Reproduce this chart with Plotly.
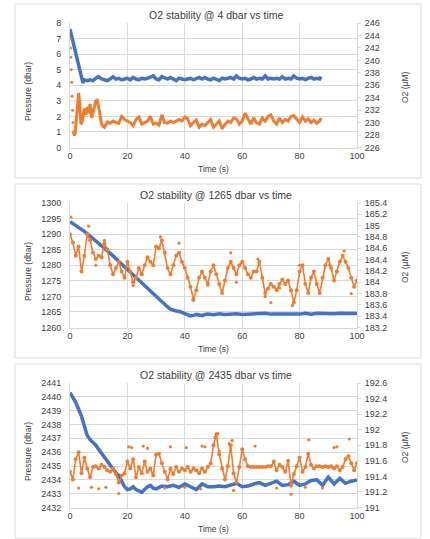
import plotly.graph_objects as go

# ---------------- DATA ----------------
titles = ["O2 stability @ 4 dbar vs time", "O2 stability @ 1265 dbar vs time", "O2 stability @ 2435 dbar vs time"]

# Panel 1 (4 dbar)
p1_t = [0, 1, 2, 3, 4, 4.5] + list(range(5, 88)) + [87.5]
p1_pres = [7.6, 6.8, 6.0, 5.2, 4.4, 4.15,
           4.35, 4.3, 4.35, 4.3, 4.45, 4.55, 4.4, 4.35, 4.3, 4.4,          # 5-14
           4.55, 4.4, 4.45, 4.35, 4.4, 4.45, 4.35, 4.5, 4.4, 4.35,         # 15-24
           4.45, 4.4, 4.45, 4.5, 4.6, 4.4, 4.35, 4.55, 4.45, 4.4,          # 25-34
           4.5, 4.4, 4.3, 4.45, 4.4, 4.35, 4.4, 4.45, 4.35, 4.4,           # 35-44
           4.5, 4.4, 4.5, 4.4, 4.35, 4.45, 4.4, 4.3, 4.45, 4.4,            # 45-54
           4.45, 4.5, 4.4, 4.6, 4.45, 4.4, 4.45, 4.35, 4.4, 4.5,           # 55-64
           4.4, 4.45, 4.4, 4.6, 4.4, 4.45, 4.4, 4.45, 4.4, 4.55,           # 65-74
           4.4, 4.45, 4.4, 4.6, 4.45, 4.4, 4.45, 4.35, 4.45, 4.5,          # 75-84
           4.4, 4.45, 4.4,                                                 # 85-87
           4.55]
p1_o2_t = [0, 0.15, 0.3, 0.45, 0.6, 0.75, 0.9, 1.05, 1.2, 1.5,
           1.8, 2.2, 2.6, 3.0, 3.4, 3.8, 4.2, 4.6, 5.0, 5.5,
           6.0, 6.5, 7.0, 7.5, 8.0, 8.5, 9.0, 9.5, 10.0, 10.5,
           11.0, 11.5] + list(range(12, 88)) + [87.5]
p1_o2 = [243.5, 242.0, 240.5, 238.5, 236.5, 234.25, 232.0, 230.0, 228.5, 227.9,
         228.25, 230.5, 233.0, 234.75, 233.0, 229.75, 230.0, 231.0, 232.25, 231.25,
         232.5, 231.5, 233.0, 230.75, 231.5, 232.5, 233.5, 233.6, 232.5, 231.0,
         229.75, 229.4,
         229.25, 230.1, 229.9, 230.25, 230.0, 229.9, 231.0, 230.5, 230.25, 230.0,      # 12-21
         229.5, 230.5, 230.9, 229.75, 230.0, 230.25, 231.0, 229.75, 229.9, 229.6,      # 22-31
         231.25, 230.0, 229.9, 230.25, 230.0, 230.25, 230.5, 230.25, 230.9, 230.6,     # 32-41
         229.5, 230.0, 230.4, 229.25, 229.75, 229.5, 230.0, 230.5, 229.25, 229.75,     # 42-51
         230.25, 229.0, 229.75, 230.25, 230.0, 230.75, 230.6, 229.75, 230.25, 231.5,   # 52-61
         230.5, 229.75, 230.75, 230.0, 229.75, 230.75, 230.25, 231.0, 231.25, 230.25,  # 62-71
         229.75, 230.75, 230.0, 230.5, 230.25, 231.0, 231.1, 230.5, 230.0, 230.9,      # 72-81
         230.25, 230.6, 230.0, 230.4, 229.9, 230.25,                                   # 82-87
         230.75]

# Panel 2 (1265 dbar)
p2_t = [0, 2.5, 5, 7.5, 10, 12.5, 15, 17.5, 20, 22.5, 25, 27.5, 30, 32, 34, 35, 36, 37, 38, 39,
        40, 41, 42, 43, 44, 45, 46, 47, 48] + list(range(50, 101, 2))
p2_pres = [1294, 1292.6, 1290.9, 1289, 1287.1, 1285.1, 1283, 1280.8, 1278.6, 1276.4,
           1274.2, 1272, 1269.9, 1268.2, 1266.6, 1265.9, 1265.5, 1265.3, 1265.2, 1264.8,
           1264.3, 1263.9, 1263.7, 1263.9, 1264.2, 1264.0, 1263.8, 1264.2, 1264.3,
           1264.1, 1264.4, 1264.2, 1264.3, 1264.4, 1264.2, 1264.3, 1264.3, 1264.4, 1264.6,
           1264.3, 1264.3, 1264.4, 1264.3, 1264.5, 1264.3, 1264.6, 1264.3, 1264.6, 1264.5,
           1264.6, 1264.4, 1264.6, 1264.5, 1264.4, 1264.5]
p2_o2_t = list(range(0, 101))
p2_o2 = [184.85, 184.70, 184.47, 184.63, 184.19, 184.47, 184.85, 184.74, 184.52, 184.41,   # 0-9
         184.47, 184.44, 184.69, 184.58, 184.30, 184.14, 184.25, 184.36, 184.19, 184.08,   # 10-19
         184.36, 184.19, 184.00, 184.08, 184.25, 184.14, 184.30, 184.44, 184.36, 184.30,   # 20-29
         184.63, 184.60, 184.74, 184.52, 184.25, 184.14, 184.30, 184.47, 184.52, 184.36,   # 30-39
         184.25, 184.08, 183.92, 183.70, 183.86, 184.08, 184.19, 184.08, 183.97, 184.19,   # 40-49
         184.30, 184.14, 183.97, 183.81, 184.03, 184.25, 184.36, 184.25, 184.14, 184.30,   # 50-59
         184.36, 184.25, 184.14, 184.08, 184.19, 184.19, 184.36, 184.08, 183.81, 183.89,   # 60-69
         183.97, 183.92, 183.86, 183.97, 184.05, 183.97, 184.03, 183.86, 183.64, 183.86,   # 70-79
         184.19, 184.30, 183.97, 183.81, 184.08, 184.19, 183.97, 183.81, 184.08, 184.30,   # 80-89
         184.41, 184.25, 184.03, 184.19, 184.36, 184.47, 184.36, 184.25, 184.08, 183.92,   # 90-99
         184.03]
p2_out_t = [0.3, 6.5, 12, 9, 22, 31.5, 38, 43, 48, 56, 58, 65.5, 68, 70, 73, 77.5, 80, 90.5, 95.5, 98]
p2_out_o2 = [185.15, 184.99, 184.74, 184.30, 183.94, 184.80, 184.69, 183.68, 183.95, 184.52,
             184.00, 184.41, 183.75, 183.64, 183.90, 183.59, 184.30, 184.30, 184.55, 183.80]

# Panel 3 (2435 dbar)
p3_t = list(range(0, 31)) + list(range(32, 101, 2))
p3_pres = [2440.3, 2440.0, 2439.6, 2439.1, 2438.6, 2437.9, 2437.2, 2436.9, 2436.7, 2436.5,
           2436.2, 2435.9, 2435.6, 2435.3, 2435.0, 2434.7, 2434.5, 2434.3, 2433.9, 2433.5,
           2433.3, 2433.35, 2433.5, 2433.3, 2433.2, 2433.1, 2433.3, 2433.5, 2433.6, 2433.4,
           2433.35,
           2433.55, 2433.5, 2433.6, 2433.45, 2433.7, 2433.5, 2433.3, 2433.7, 2433.5, 2433.5,
           2433.55, 2433.5, 2433.6, 2433.75, 2433.5, 2433.55, 2433.7, 2433.8, 2433.6, 2433.75,
           2433.9, 2433.6, 2433.65, 2433.9, 2433.6, 2433.7, 2433.95, 2434.0, 2433.6, 2434.2,
           2433.7, 2434.1, 2433.75, 2433.9, 2434.0]
p3_o2_t = list(range(0, 101))
p3_o2 = [191.46, 191.36, 191.62, 191.71, 191.44, 191.64, 191.50, 191.39, 191.52, 191.53,   # 0-9
         191.50, 191.55, 191.52, 191.48, 191.46, 191.50, 191.43, 191.32, 191.41, 191.44,   # 10-19
         191.59, 191.50, 191.62, 191.39, 191.52, 191.44, 191.59, 191.46, 191.50, 191.41,   # 20-29
         191.68, 191.69, 191.57, 191.46, 191.36, 191.50, 191.43, 191.52, 191.46, 191.50,   # 30-39
         191.48, 191.52, 191.46, 191.50, 191.48, 191.44, 191.50, 191.46, 191.52, 191.57,   # 40-49
         191.80, 191.94, 191.68, 191.50, 191.36, 191.53, 191.80, 191.44, 191.32, 191.52,   # 50-59
         191.75, 191.62, 191.53, 191.52, 191.52, 191.52, 191.52, 191.52, 191.52, 191.53,   # 60-69
         191.53, 191.59, 191.48, 191.55, 191.52, 191.46, 191.60, 191.28, 191.43, 191.53,   # 70-79
         191.64, 191.46, 191.52, 191.69, 191.55, 191.50, 191.53, 191.53, 191.52, 191.53,   # 80-89
         191.52, 191.53, 191.50, 191.53, 191.48, 191.52, 191.62, 191.66, 191.57, 191.48,   # 90-99
         191.57]
p3_out_t = [20.5, 21.5, 25.5, 27, 35, 40.5, 46, 47, 64.5, 92, 93, 83.2, 97.3,
            3, 7.5, 10, 12.5, 17, 33, 40, 45.5, 57, 72, 77, 82, 88,
            50.5, 51.5, 52, 55.5, 56.5]
p3_out_o2 = [191.78, 191.77, 191.79, 191.76, 191.78, 191.77, 191.79, 191.78, 191.79, 191.77, 191.78, 191.87, 191.88,
             191.25, 191.26, 191.24, 191.26, 191.18, 191.25, 191.26, 191.24, 191.22, 191.25, 191.17, 191.26, 191.25,
             191.90, 191.95, 191.72, 191.82, 191.86]

left_ranges = [[0, 8], [1260, 1300], [2432, 2441]]
left_dticks = [1, 5, 1]
right_ranges = [[226, 246], [183.2, 185.4], [191, 192.6]]
right_dticks = [2, 0.2, 0.2]

# ---------------- STYLE / LAYOUT ----------------
W, H = 430, 539
BLUE = "#4472C4"
ORANGE = "#ED7D31"
GRID = "#d9d9d9"
TXT = "#404040"
FONT = "Liberation Sans, Arial, sans-serif"

def px(x):
    return x / W

def py(y):
    return 1 - y / H

offsets = [0, 180, 360]
x0, x1 = 70, 357

fig = go.Figure()

pressure_sets = [(p1_t, p1_pres), (p2_t, p2_pres), (p3_t, p3_pres)]
o2_sets = [(p1_o2_t, p1_o2), (p2_o2_t, p2_o2), (p3_o2_t, p3_o2)]
outlier_sets = [None, (p2_out_t, p2_out_o2), (p3_out_t, p3_out_o2)]

shapes = []
annotations = []

for i, off in enumerate(offsets):
    n = i + 1
    xa = "x" if n == 1 else f"x{n}"
    yl_idx = 2 * i + 1
    yr_idx = 2 * i + 2
    yl = "y" if yl_idx == 1 else f"y{yl_idx}"
    yr = f"y{yr_idx}"

    t, p = pressure_sets[i]
    fig.add_trace(go.Scatter(x=t, y=p, mode="lines", xaxis=xa, yaxis=yl,
                             line=dict(color=BLUE, width=3.5), showlegend=False))
    t2, o = o2_sets[i]
    if i == 0:
        fig.add_trace(go.Scatter(x=t2[8:], y=o[8:], mode="lines", xaxis=xa, yaxis=yr,
                                 line=dict(color=ORANGE, width=3), showlegend=False))
        fig.add_trace(go.Scatter(x=t2[:9], y=o[:9], mode="markers", xaxis=xa, yaxis=yr,
                                 marker=dict(color=ORANGE, size=3), showlegend=False))
    else:
        fig.add_trace(go.Scatter(x=t2, y=o, mode="lines+markers", xaxis=xa, yaxis=yr,
                                 line=dict(color=ORANGE, width=1.6),
                                 marker=dict(color=ORANGE, size=4), showlegend=False))
        ot, oo = outlier_sets[i]
        fig.add_trace(go.Scatter(x=ot, y=oo, mode="markers", xaxis=xa, yaxis=yr,
                                 marker=dict(color=ORANGE, size=3.2), showlegend=False))

    top, bot = off + 23, off + 147.5
    dom_y = [py(bot), py(top)]
    xkey = "xaxis" if n == 1 else f"xaxis{n}"
    ylkey = "yaxis" if yl_idx == 1 else f"yaxis{yl_idx}"
    yrkey = f"yaxis{yr_idx}"

    fig.layout[xkey] = dict(domain=[px(x0), px(x1)], anchor=yl, range=[0, 100], dtick=20,
                            automargin=False,
                            showgrid=True, gridcolor=GRID, gridwidth=1, zeroline=False,
                            showline=True, linecolor=GRID, ticks="", fixedrange=True,
                            tickfont=dict(size=9, color=TXT, family=FONT))
    fig.layout[ylkey] = dict(domain=dom_y, anchor=xa, range=left_ranges[i], dtick=left_dticks[i],
                             automargin=False,
                             showgrid=True, gridcolor=GRID, gridwidth=1, zeroline=False,
                             showline=True, linecolor=GRID, ticks="", ticklabelstandoff=6,
                             tickfont=dict(size=9, color=TXT, family=FONT))
    fig.layout[yrkey] = dict(overlaying=yl, side="right", anchor=xa, range=right_ranges[i],
                             automargin=False,
                             dtick=right_dticks[i], showgrid=False, zeroline=False,
                             showline=True, linecolor=GRID, ticks="outside", ticklen=3,
                             tickcolor=GRID, ticklabelstandoff=2,
                             tickfont=dict(size=9, color=TXT, family=FONT))

    # panel border
    shapes.append(dict(type="rect", xref="paper", yref="paper",
                       x0=px(15), x1=px(421), y0=py(off + 178), y1=py(off + 4),
                       line=dict(color="#dcdcdc", width=1), fillcolor="rgba(0,0,0,0)", layer="below"))
    # title
    annotations.append(dict(text=titles[i], xref="paper", yref="paper", x=px(216), y=py(off + 15),
                            showarrow=False, xanchor="center", yanchor="middle",
                            font=dict(size=10.5, color=TXT, family=FONT)))
    # axis titles
    annotations.append(dict(text="Pressure (dbar)", xref="paper", yref="paper", x=px(28), y=py(off + 92),
                            showarrow=False, textangle=-90, xanchor="center", yanchor="middle",
                            font=dict(size=8.5, color=TXT, family=FONT)))
    annotations.append(dict(text="O2 (µM)", xref="paper", yref="paper", x=px(405), y=py(off + 87),
                            showarrow=False, textangle=-90, xanchor="center", yanchor="middle",
                            font=dict(size=8.5, color=TXT, family=FONT)))
    annotations.append(dict(text="Time (s)", xref="paper", yref="paper", x=px(213), y=py(off + 169),
                            showarrow=False, xanchor="center", yanchor="middle",
                            font=dict(size=8.5, color=TXT, family=FONT)))

fig.update_layout(width=W, height=H, margin=dict(l=0, r=0, t=0, b=0),
                  paper_bgcolor="white", plot_bgcolor="white",
                  shapes=shapes, annotations=annotations, showlegend=False)

fig.write_html("out.html", config={"displayModeBar": False},
               post_script="document.body.style.margin='0';document.body.style.overflow='hidden';")
